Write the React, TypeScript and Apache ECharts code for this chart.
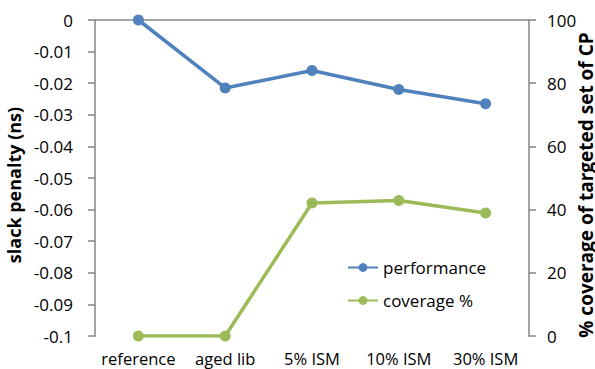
import React, { useEffect, useRef } from "react";
import * as echarts from "echarts";

const categories = ["reference", "aged lib", "5% ISM", "10% ISM", "30% ISM"];
const performance = [0, -0.0215, -0.016, -0.022, -0.0265];
const coverage = [0, 0, 42.1, 42.9, 38.9];
const rightAxisTitle = "% coverage of targeted set of CP";

const FONT = "Open Sans";
const AXIS_GRAY = "#868686";

export default function App() {
  const ref = useRef<HTMLDivElement>(null);

  useEffect(() => {
    if (!ref.current) return;
    const chart = echarts.init(ref.current, undefined, { renderer: "svg" });
    chart.setOption({
      animation: false,
      backgroundColor: "#ffffff",
      textStyle: { fontFamily: FONT },
      grid: {
        left: 95,
        right: 66,
        top: 20,
        bottom: 33,
        containLabel: false,
        outerBoundsMode: "none",
      },
      legend: {
        orient: "vertical",
        left: 347,
        top: 259,
        padding: 0,
        itemWidth: 30,
        itemHeight: 11,
        itemGap: 16,
        textStyle: { fontFamily: FONT, fontSize: 17, color: "#000" },
        data: ["performance", "coverage %"],
      },
      // right-hand axis title, placed by hand so it sits just past the tick labels
      graphic: [
        {
          type: "text",
          x: 586,
          y: 185,
          rotation: Math.PI / 2,
          style: {
            text: rightAxisTitle,
            font: `bold 19px "${FONT}"`,
            fill: "#000",
            align: "center",
            verticalAlign: "middle",
            textAlign: "center",
            textVerticalAlign: "middle",
          },
        },
      ],
      xAxis: {
        type: "category",
        data: categories,
        boundaryGap: true,
        axisLine: { lineStyle: { color: AXIS_GRAY, width: 1.5 } },
        axisTick: { show: false },
        axisLabel: { color: "#000", fontSize: 16.5, fontFamily: FONT, margin: 14, interval: 0 },
      },
      yAxis: [
        {
          type: "value",
          min: -0.1,
          max: 0,
          interval: 0.01,
          name: "slack penalty (ns)",
          nameLocation: "middle",
          nameGap: 72,
          nameTextStyle: {
            fontSize: 18,
            fontWeight: "bold",
            color: "#000",
            fontFamily: FONT,
            padding: [0, 14, 0, 0],
          },
          axisLine: { show: true, lineStyle: { color: AXIS_GRAY, width: 1.5 } },
          axisTick: { show: true, length: 7, lineStyle: { color: AXIS_GRAY, width: 1.5 } },
          splitLine: { show: false },
          axisLabel: {
            color: "#000",
            fontSize: 17,
            fontFamily: FONT,
            margin: 22,
            formatter: (v: number) => String(Number(v.toFixed(2))),
          },
        },
        {
          type: "value",
          min: 0,
          max: 100,
          interval: 20,
          position: "right",
          axisLine: { show: true, lineStyle: { color: AXIS_GRAY, width: 1.5 } },
          axisTick: { show: true, length: 7, lineStyle: { color: AXIS_GRAY, width: 1.5 } },
          splitLine: { show: false },
          axisLabel: { color: "#000", fontSize: 17, fontFamily: FONT, margin: 18 },
        },
      ],
      series: [
        {
          name: "performance",
          type: "line",
          yAxisIndex: 0,
          data: performance,
          symbol: "circle",
          symbolSize: 11,
          color: "#4F81BD",
          lineStyle: { width: 3.5, color: "#4F81BD" },
          itemStyle: { color: "#4F81BD" },
        },
        {
          name: "coverage %",
          type: "line",
          yAxisIndex: 1,
          data: coverage,
          symbol: "circle",
          symbolSize: 11,
          color: "#9BBB59",
          lineStyle: { width: 3.5, color: "#9BBB59" },
          itemStyle: { color: "#9BBB59" },
        },
      ],
    });
    return () => chart.dispose();
  }, []);

  return (
    <div
      ref={ref}
      style={{ position: "absolute", left: 0, top: 0, width: 595, height: 369, overflow: "hidden" }}
    />
  );
}
